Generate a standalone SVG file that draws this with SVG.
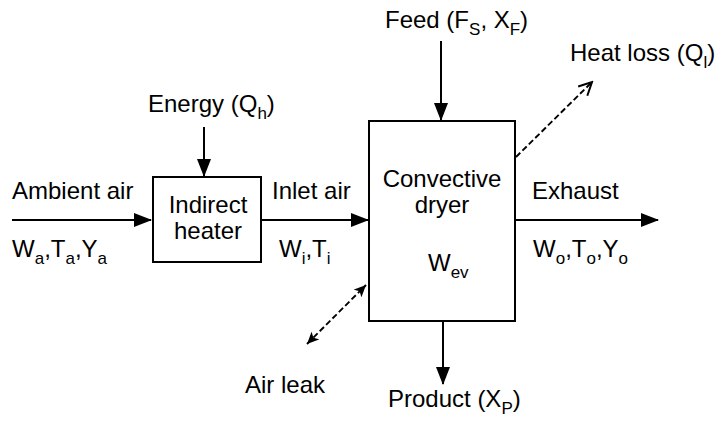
<svg xmlns="http://www.w3.org/2000/svg" width="719" height="421" viewBox="0 0 719 421">
<style>
text{font-family:"Liberation Sans",Arial,sans-serif;font-size:24px;fill:#000}
.sub{font-size:17px}
.box{fill:#fff;stroke:#000;stroke-width:2}
.arr{stroke:#000;stroke-width:2;fill:none}
.dash{stroke:#000;stroke-width:1.9;fill:none;stroke-dasharray:6 3}
</style>
<defs>
<marker id="ah" markerUnits="userSpaceOnUse" markerWidth="18" markerHeight="14" refX="17" refY="7" orient="auto">
<path d="M0,0 L18,7 L0,14 Z" fill="#000"/>
</marker>
<marker id="oh" markerUnits="userSpaceOnUse" markerWidth="16" markerHeight="16" refX="14" refY="8" orient="auto">
<path d="M1,1.5 L14,8 L1,14.5" fill="none" stroke="#000" stroke-width="2"/>
</marker>
<marker id="sh" markerUnits="userSpaceOnUse" markerWidth="13" markerHeight="11" refX="12" refY="5.5" orient="auto-start-reverse">
<path d="M0,0 L12,5.5 L0,11 L3,5.5 Z" fill="#000"/>
</marker>
</defs>
<g id="connectors">
<line class="arr" x1="12" y1="220" x2="151" y2="220" marker-end="url(#ah)"/>
<line class="arr" x1="262" y1="220" x2="368" y2="220" marker-end="url(#ah)"/>
<line class="arr" x1="516" y1="220" x2="658" y2="220" marker-end="url(#ah)"/>
<line class="arr" x1="204" y1="127" x2="204" y2="176" marker-end="url(#ah)"/>
<line class="arr" x1="441" y1="41" x2="441" y2="120" marker-end="url(#ah)"/>
<line class="arr" x1="443" y1="322" x2="443" y2="384" marker-end="url(#ah)"/>
<line class="dash" x1="516" y1="157" x2="592" y2="82" marker-end="url(#oh)"/>
<line class="dash" x1="307" y1="344" x2="366" y2="285" marker-start="url(#sh)" marker-end="url(#sh)"/>
</g>
<g id="heater">
<rect class="box" x="153" y="177" width="108" height="85"/>
<text x="208" y="213" text-anchor="middle">Indirect</text>
<text x="208" y="239" text-anchor="middle">heater</text>
</g>
<g id="dryer">
<rect class="box" x="369" y="121" width="146" height="200"/>
<text x="442" y="187" text-anchor="middle">Convective</text>
<text x="442" y="213" text-anchor="middle">dryer</text>
<text x="428" y="271">W<tspan class="sub" dy="7">ev</tspan></text>
</g>
<g id="ambient">
<text x="12" y="199">Ambient air</text>
<text x="12" y="257">W<tspan class="sub" dy="7">a</tspan><tspan dy="-7">,T</tspan><tspan class="sub" dy="7">a</tspan><tspan dy="-7">,Y</tspan><tspan class="sub" dy="7">a</tspan></text>
</g>
<g id="energy">
<text x="148" y="112">Energy (Q<tspan class="sub" dy="7">h</tspan><tspan dy="-7">)</tspan></text>
</g>
<g id="inlet">
<text x="272" y="199">Inlet air</text>
<text x="279" y="257">W<tspan class="sub" dy="7">i</tspan><tspan dy="-7">,T</tspan><tspan class="sub" dy="7">i</tspan></text>
</g>
<g id="feed">
<text x="385" y="28">Feed (F<tspan class="sub" dy="7">S</tspan><tspan dy="-7">, X</tspan><tspan class="sub" dy="7">F</tspan><tspan dy="-7">)</tspan></text>
</g>
<g id="heatloss">
<text x="570" y="61">Heat loss (Q<tspan class="sub" dy="7">l</tspan><tspan dy="-7">)</tspan></text>
</g>
<g id="exhaust">
<text x="532" y="199">Exhaust</text>
<text x="533" y="257">W<tspan class="sub" dy="7">o</tspan><tspan dy="-7">,T</tspan><tspan class="sub" dy="7">o</tspan><tspan dy="-7">,Y</tspan><tspan class="sub" dy="7">o</tspan></text>
</g>
<g id="airleak">
<text x="245" y="393">Air leak</text>
</g>
<g id="product">
<text x="388" y="407">Product (X<tspan class="sub" dy="7">P</tspan><tspan dy="-7">)</tspan></text>
</g>
</svg>
